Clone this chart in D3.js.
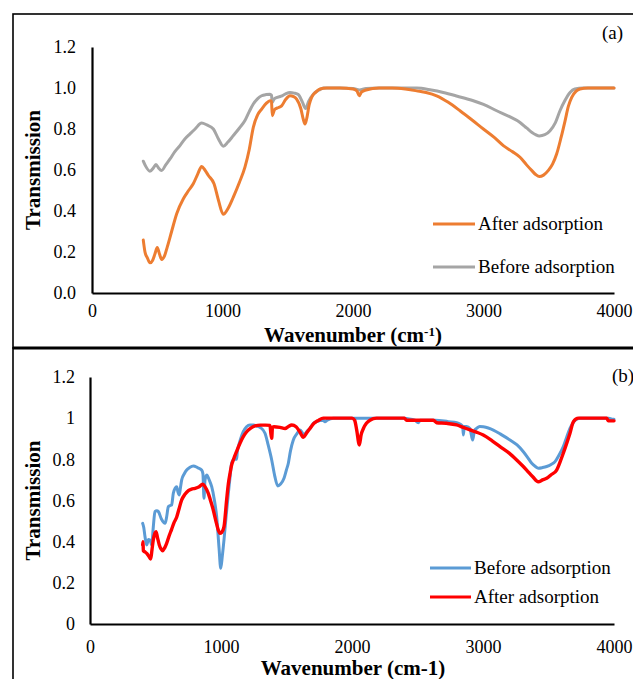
<!DOCTYPE html>
<html>
<head>
<meta charset="utf-8">
<script src="https://cdn.jsdelivr.net/npm/d3@7"></script>
<style>
  html, body { margin: 0; padding: 0; background: #fff; }
  svg { display: block; }
  text { font-family: "Liberation Serif", "Times New Roman", serif; fill: #000; }
</style>
</head>
<body>
<script>
// ---------- DATA ----------
const xTicks = [0, 1000, 2000, 3000, 4000];
const yTicks = [0, 0.2, 0.4, 0.6, 0.8, 1.0, 1.2];
const yTickLabelsA = ["0.0", "0.2", "0.4", "0.6", "0.8", "1.0", "1.2"];
const yTickLabelsB = ["0", "0.2", "0.4", "0.6", "0.8", "1", "1.2"];

// Panel (a) – After adsorption (orange)
const aAfterX = [393,406,425,444,465,482,500,517,534,555,577,610,649,700,740,776,810,840,865,892,935,970,1006,1040,1083,1130,1172,1205,1236,1270,1300,1335,1364,1375,1382,1390,1402,1430,1453,1485,1517,1545,1568,1600,1620,1632,1645,1665,1683,1715,1747,1800,1900,2000,2030,2048,2065,2100,2200,2300,2400,2488,2560,2641,2730,2820,2910,2999,3080,3152,3220,3280,3330,3369,3400,3428,3460,3497,3530,3561,3595,3625,3650,3676,3710,3739,3800,4000];
const aAfterY = [0.258,0.20,0.17,0.147,0.16,0.19,0.222,0.19,0.164,0.18,0.225,0.30,0.387,0.46,0.50,0.533,0.58,0.617,0.60,0.573,0.533,0.45,0.384,0.41,0.468,0.54,0.614,0.70,0.808,0.87,0.897,0.925,0.938,0.935,0.865,0.88,0.897,0.905,0.913,0.945,0.962,0.958,0.946,0.90,0.845,0.824,0.85,0.92,0.954,0.98,0.995,1.0,1.0,0.995,0.985,0.962,0.98,0.99,1.0,1.0,0.995,0.986,0.978,0.962,0.93,0.889,0.845,0.80,0.76,0.719,0.69,0.662,0.625,0.598,0.578,0.568,0.575,0.598,0.63,0.679,0.76,0.84,0.91,0.954,0.985,0.995,1.0,1.0];

// Panel (a) – Before adsorption (grey)
const aBeforeX = [393,410,444,470,490,510,534,565,598,635,674,710,751,790,840,880,930,970,1006,1040,1083,1130,1172,1205,1236,1270,1300,1335,1364,1375,1382,1390,1402,1450,1480,1517,1550,1581,1610,1637,1660,1696,1740,1773,1900,2000,2050,2100,2200,2400,2488,2600,2692,2800,2922,3000,3101,3200,3280,3330,3369,3428,3470,3510,3550,3586,3625,3663,3700,3765,4000];
const aBeforeY = [0.643,0.62,0.594,0.61,0.627,0.61,0.598,0.625,0.654,0.69,0.719,0.75,0.776,0.80,0.829,0.82,0.80,0.75,0.716,0.735,0.768,0.805,0.841,0.885,0.922,0.948,0.962,0.968,0.97,0.965,0.93,0.94,0.95,0.96,0.97,0.978,0.975,0.968,0.935,0.90,0.935,0.97,0.99,1.0,1.0,0.998,0.99,0.998,1.0,1.0,1.0,0.99,0.978,0.96,0.938,0.92,0.889,0.86,0.832,0.805,0.784,0.766,0.772,0.792,0.83,0.889,0.94,0.978,0.995,1.0,1.0];

// Panel (b) – Before adsorption (blue)
const bBeforeX = [402,410,420,433,446,458,471,483,496,510,522,545,573,585,598,610,623,636,650,662,672,682,690,700,720,738,760,789,820,852,862,870,878,891,910,929,950,967,985,998,1010,1023,1040,1056,1070,1081,1100,1119,1125,1132,1150,1170,1195,1221,1250,1272,1300,1336,1360,1387,1410,1433,1455,1481,1500,1514,1530,1552,1580,1603,1620,1634,1655,1679,1705,1730,1780,1794,1810,1858,2000,2200,2400,2417,2480,2506,2520,2636,2735,2800,2824,2845,2850,2858,2875,2900,2921,2935,2951,2975,3002,3040,3079,3140,3206,3260,3308,3340,3372,3400,3422,3455,3486,3520,3550,3580,3613,3640,3664,3690,3702,3740,3960,3985,4000];
const bBeforeY = [0.489,0.47,0.424,0.384,0.41,0.408,0.384,0.47,0.546,0.55,0.546,0.51,0.489,0.52,0.57,0.575,0.578,0.635,0.66,0.667,0.64,0.627,0.66,0.70,0.73,0.748,0.76,0.768,0.76,0.748,0.73,0.611,0.70,0.724,0.70,0.667,0.60,0.521,0.37,0.271,0.33,0.41,0.53,0.635,0.72,0.781,0.80,0.80,0.84,0.86,0.90,0.934,0.958,0.967,0.967,0.962,0.955,0.927,0.87,0.797,0.72,0.671,0.68,0.708,0.75,0.781,0.84,0.894,0.925,0.942,0.93,0.918,0.935,0.95,0.975,0.983,0.99,0.983,0.99,1.0,1.0,1.0,1.0,0.998,0.99,0.978,0.99,0.99,0.983,0.978,0.972,0.96,0.918,0.96,0.96,0.95,0.894,0.94,0.95,0.96,0.958,0.952,0.942,0.92,0.894,0.87,0.837,0.81,0.781,0.765,0.757,0.76,0.765,0.775,0.789,0.82,0.862,0.91,0.95,0.98,0.99,1.0,1.0,0.995,0.995];

// Panel (b) – After adsorption (red)
const bAfterX = [402,405,407,420,433,448,463,473,483,495,504,515,529,542,555,570,585,605,623,640,662,680,700,725,751,775,802,830,860,880,903,920,941,965,980,992,1005,1023,1043,1056,1069,1080,1094,1120,1145,1170,1196,1230,1260,1300,1340,1374,1380,1387,1393,1405,1450,1489,1515,1540,1573,1600,1628,1650,1679,1710,1743,1781,2000,2020,2036,2056,2070,2087,2110,2137,2188,2400,2417,2621,2646,2720,2799,2850,2901,2950,3002,3070,3130,3200,3257,3300,3333,3380,3422,3455,3486,3520,3562,3590,3613,3640,3664,3690,3728,3944,3957,4000];
const bAfterY = [0.384,0.40,0.356,0.35,0.343,0.33,0.316,0.36,0.408,0.44,0.449,0.42,0.384,0.365,0.356,0.37,0.392,0.43,0.46,0.49,0.52,0.56,0.603,0.63,0.648,0.655,0.659,0.665,0.679,0.665,0.635,0.60,0.554,0.49,0.455,0.441,0.445,0.473,0.603,0.68,0.732,0.77,0.797,0.84,0.878,0.91,0.934,0.953,0.962,0.966,0.966,0.965,0.93,0.902,0.955,0.958,0.955,0.95,0.96,0.967,0.958,0.935,0.907,0.925,0.95,0.975,0.989,1.0,1.0,0.99,0.942,0.87,0.92,0.95,0.975,0.99,1.0,1.0,0.99,0.99,0.978,0.975,0.967,0.955,0.943,0.932,0.918,0.89,0.862,0.83,0.797,0.77,0.748,0.715,0.691,0.70,0.708,0.725,0.748,0.79,0.83,0.88,0.927,0.983,1.0,1.0,0.987,0.987];

const seriesNamesA = ["After adsorption", "Before adsorption"];
const seriesNamesB = ["Before adsorption", "After adsorption"];
const colorsA = ["#ED7D31", "#A5A5A5"];
const colorsB = ["#5B9BD5", "#FF0000"];

// ---------- DRAW ----------
const W = 633, H = 679;
const svg = d3.select("body").append("svg").attr("width", W).attr("height", H);

// panel frames
svg.append("rect").attr("x", 13).attr("y", 14).attr("width", 640).attr("height", 334)
  .attr("fill", "none").attr("stroke", "#000").attr("stroke-width", 1.6);
svg.append("rect").attr("x", 13).attr("y", 348).attr("width", 640).attr("height", 360)
  .attr("fill", "none").attr("stroke", "#000").attr("stroke-width", 1.6);
svg.append("line").attr("x1", 13).attr("x2", 633).attr("y1", 348).attr("y2", 348)
  .attr("stroke", "#000").attr("stroke-width", 3);

function panel(cfg) {
  const x = d3.scaleLinear().domain([0, 4000]).range([cfg.left, cfg.right]);
  const y = d3.scaleLinear().domain([0, 1.2]).range([cfg.bottom, cfg.top]);
  const g = svg.append("g");

  const yAxis = d3.axisLeft(y).tickValues(yTicks).tickSize(0).tickSizeOuter(0).tickPadding(cfg.yPad)
    .tickFormat((d, i) => cfg.yLabels[i]);
  const ga = g.append("g").attr("transform", `translate(${cfg.left},0)`).call(yAxis);
  ga.attr("font-family", null);
  ga.select(".domain").attr("stroke", "#000").attr("stroke-width", 2.2);
  ga.selectAll("text").attr("font-size", 18).style("font-family", "'Liberation Serif', serif");

  const xAxis = d3.axisBottom(x).tickValues(xTicks).tickSize(0).tickSizeOuter(0).tickPadding(cfg.xPad)
    .tickFormat(d3.format("d"));
  const gx = g.append("g").attr("transform", `translate(0,${cfg.bottom})`).call(xAxis);
  gx.attr("font-family", null);
  gx.select(".domain").attr("stroke", "#000").attr("stroke-width", 2.2);
  gx.selectAll("text").attr("font-size", 18).style("font-family", "'Liberation Serif', serif");

  const line = d3.line().x(d => x(d[0])).y(d => y(d[1])).curve(d3.curveMonotoneX);
  cfg.series.forEach(s => {
    g.append("path").datum(d3.zip(s.xs, s.ys))
      .attr("d", line).attr("fill", "none").attr("stroke", s.color)
      .attr("stroke-width", s.width).attr("stroke-linejoin", "round").attr("stroke-linecap", "round");
  });

  // legend
  cfg.legend.forEach((l, i) => {
    const ly = cfg.legY[i];
    g.append("line").attr("x1", cfg.legX1).attr("x2", cfg.legX2).attr("y1", ly).attr("y2", ly)
      .attr("stroke", l.color).attr("stroke-width", 3);
    g.append("text").attr("x", cfg.legX2 + 3).attr("y", ly + 6).attr("font-size", 19).text(l.name);
  });

  // axis titles
  g.append("text").attr("transform", `translate(${cfg.yTitleX},${(cfg.top + cfg.bottom) / 2}) rotate(-90)`)
    .attr("text-anchor", "middle").attr("font-size", 21).attr("font-weight", "bold").text("Transmission");
  const xt = g.append("text").attr("x", 353).attr("y", cfg.xTitleY).attr("text-anchor", "middle")
    .attr("font-size", 21).attr("font-weight", "bold");
  if (cfg.superscript) {
    xt.append("tspan").text("Wavenumber (cm");
    xt.append("tspan").attr("dy", -6).attr("font-size", 13).text("-1");
    xt.append("tspan").attr("dy", 6).text(")");
  } else {
    xt.text("Wavenumber (cm-1)");
  }
  g.append("text").attr("x", cfg.tagX).attr("y", cfg.tagY).attr("font-size", 19).text(cfg.tag);
}

panel({
  left: 92, right: 614, top: 47, bottom: 293, yPad: 16, xPad: 11,
  yLabels: yTickLabelsA,
  series: [
    { xs: aBeforeX, ys: aBeforeY, color: colorsA[1], width: 3 },
    { xs: aAfterX, ys: aAfterY, color: colorsA[0], width: 3 }
  ],
  legend: [{ name: seriesNamesA[0], color: colorsA[0] }, { name: seriesNamesA[1], color: colorsA[1] }],
  legX1: 433, legX2: 475, legY: [224, 267],
  yTitleX: 40, xTitleY: 342, superscript: true,
  tag: "(a)", tagX: 602, tagY: 39
});

panel({
  left: 90, right: 614, top: 377, bottom: 624, yPad: 15, xPad: 16,
  yLabels: yTickLabelsB,
  series: [
    { xs: bBeforeX, ys: bBeforeY, color: colorsB[0], width: 3 },
    { xs: bAfterX, ys: bAfterY, color: colorsB[1], width: 3.4 }
  ],
  legend: [{ name: seriesNamesB[0], color: colorsB[0] }, { name: seriesNamesB[1], color: colorsB[1] }],
  legX1: 430, legX2: 471, legY: [568, 597],
  yTitleX: 40, xTitleY: 675, superscript: false,
  tag: "(b)", tagX: 612, tagY: 382
});
</script>
</body>
</html>
